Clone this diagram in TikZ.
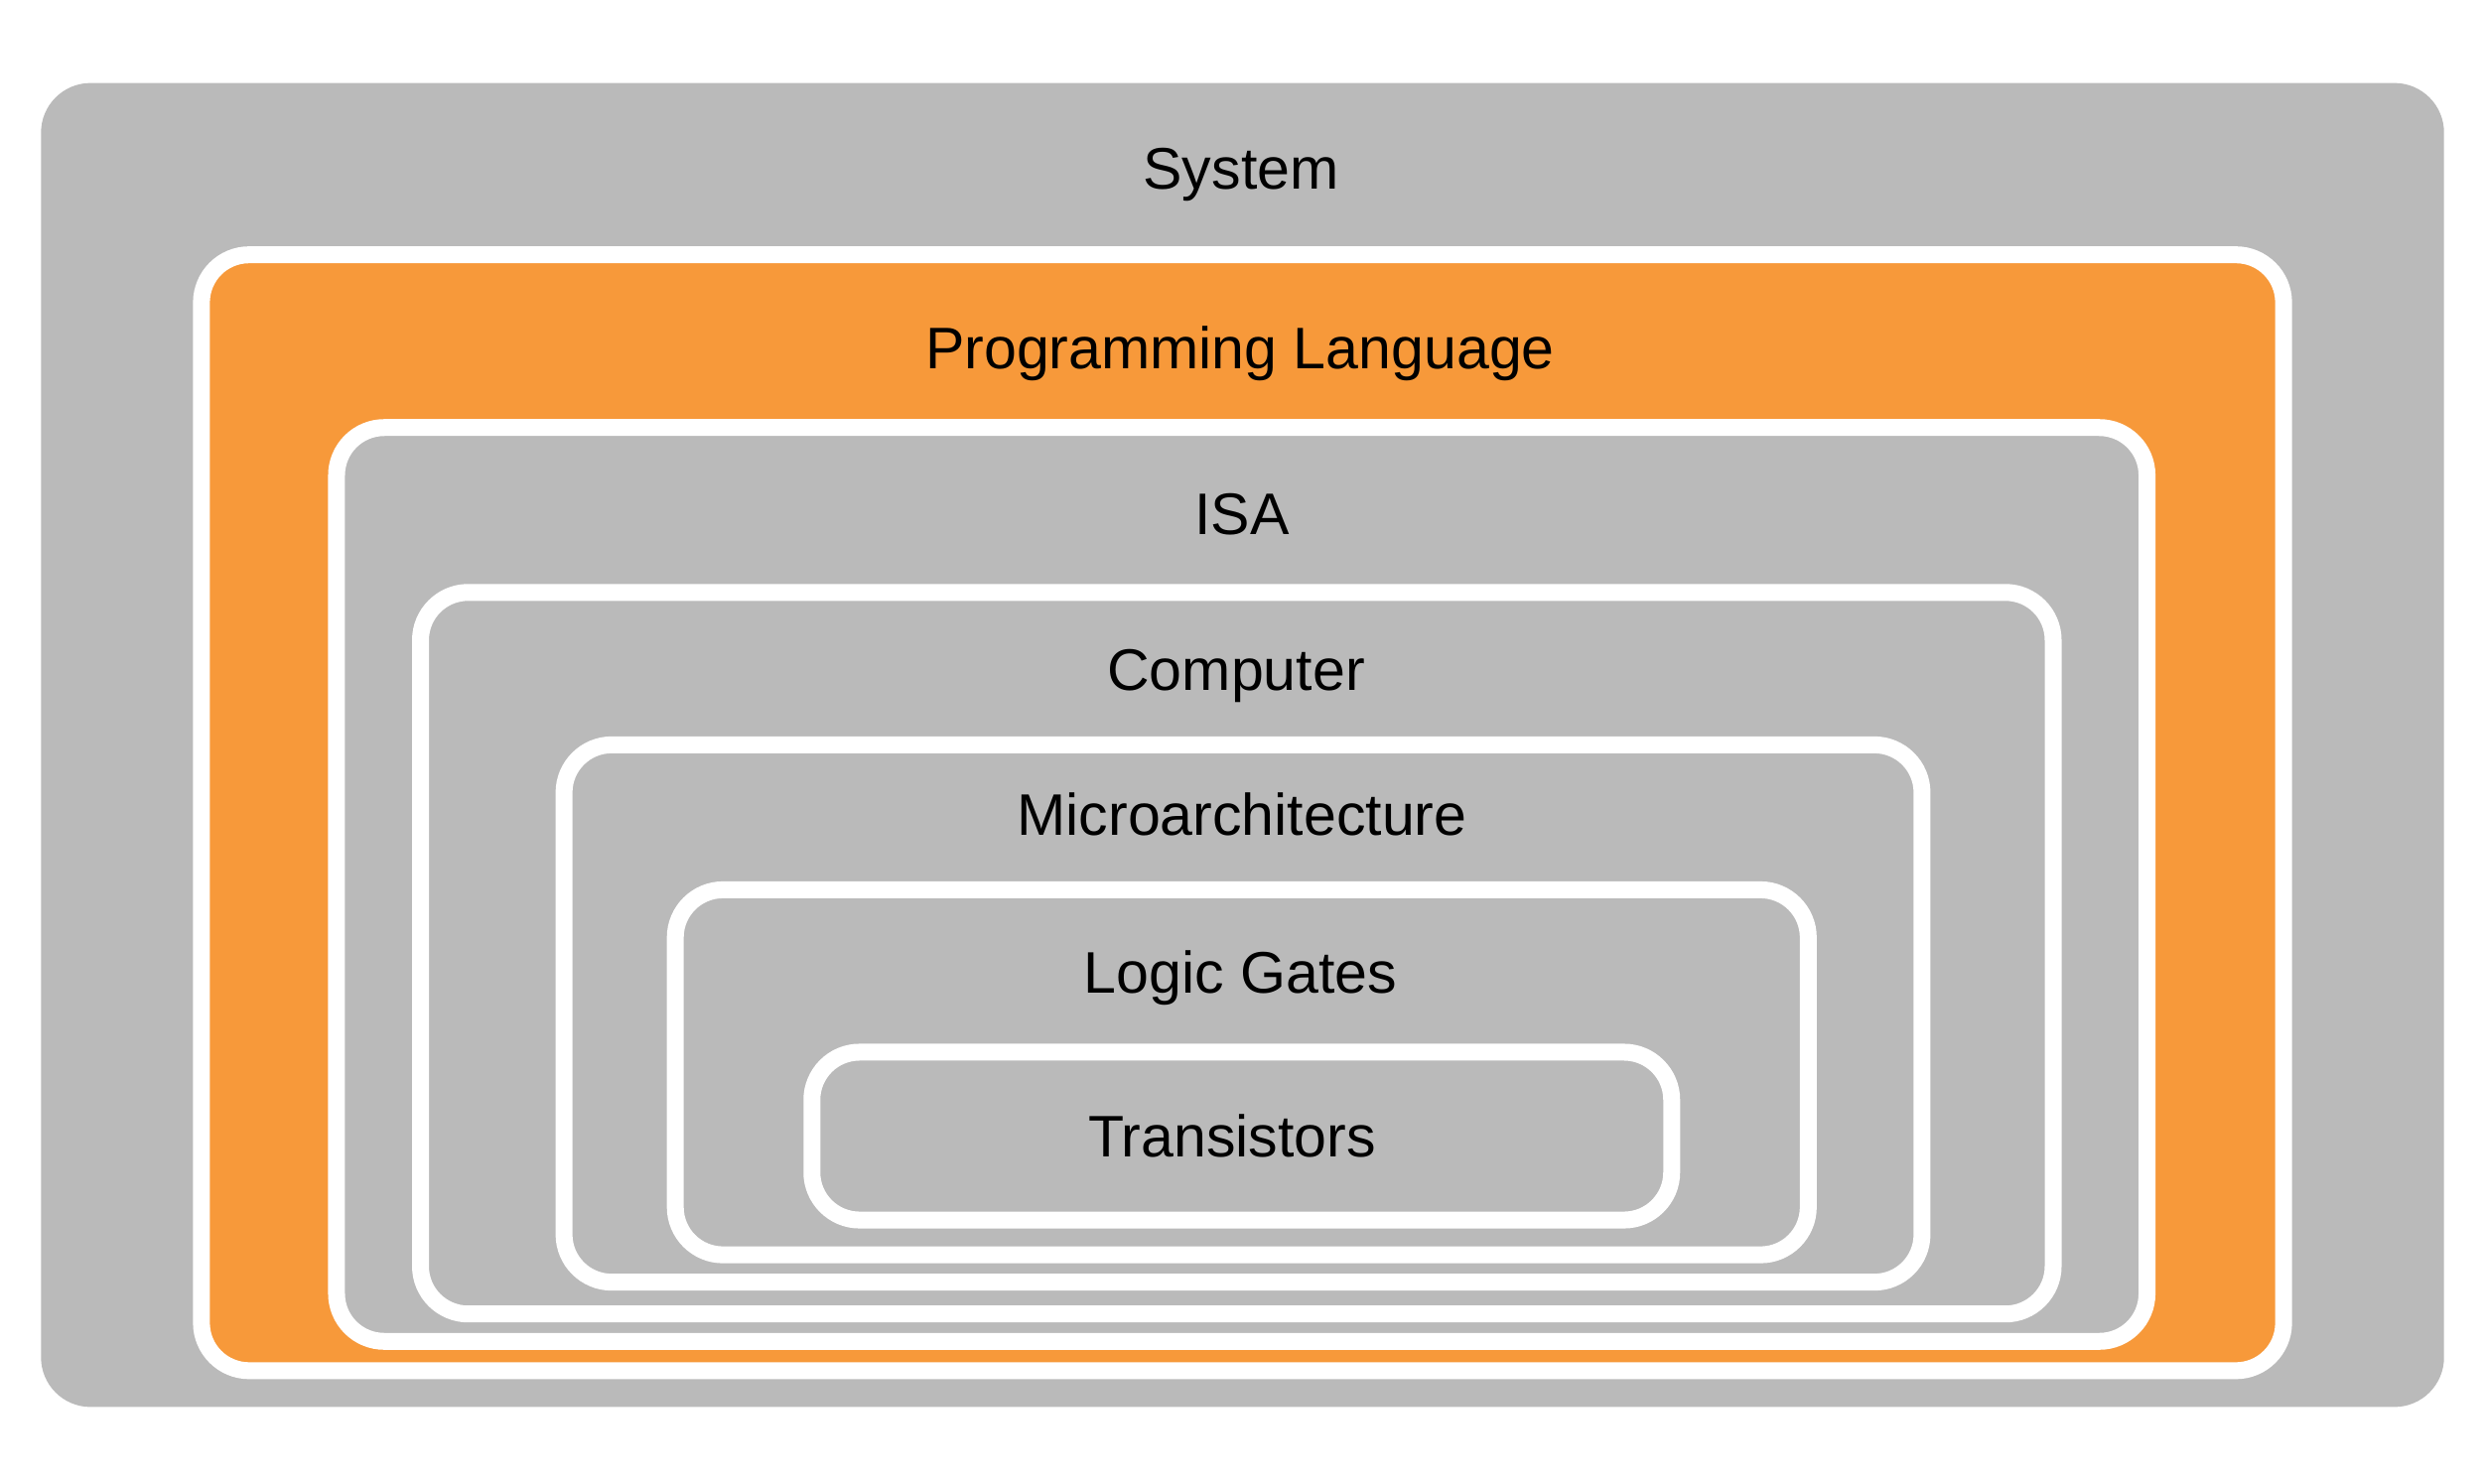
\documentclass[tikz,border=0pt]{standalone}
\usepackage{fontspec}
\setmainfont{Liberation Sans}
\definecolor{layergray}{HTML}{BABABA}
\definecolor{layerorange}{HTML}{F7993A}
\begin{document}
\begin{tikzpicture}[x=0.01cm, y=-0.01cm,
    layer/.style={fill=layergray, draw=white, line width=0.17cm, rounded corners=0.48cm, inner sep=0pt},
    layertext/.style={anchor=base, inner sep=0pt, font=\fontsize{16.8pt}{20pt}\selectfont}]
    \useasboundingbox (0,0) rectangle (2504,1494);
    % nested layers, outside in
    \node[fill=layergray, rounded corners=0.5cm, inner sep=0pt, minimum width=24.19cm, minimum height=13.33cm] (S) at (1251.5,750.5) {};
    \node[layer, fill=layerorange, minimum width=20.96cm, minimum height=11.235cm] (P) at (1251.5,818.75) {};
    \node[layer, minimum width=18.225cm, minimum height=9.2cm] (I) at (1250.75,891) {};
    \node[layer, minimum width=16.435cm, minimum height=7.265cm] (C) at (1245.75,960.25) {};
    \node[layer, minimum width=13.67cm, minimum height=5.41cm] (M) at (1252,1021) {};
    \node[layer, minimum width=11.405cm, minimum height=3.675cm] (L) at (1250.75,1080.25) {};
    \node[layer, minimum width=8.655cm, minimum height=1.69cm] (T) at (1250.75,1144.5) {};
    % labels
    \node[layertext] (s) at (1250,190.7) {System};
    \node[layertext] (p) at (1249,371.7) {Programming Language};
    \node[layertext] (i) at (1251,538.5) {ISA};
    \node[layertext] (c) at (1245,695) {Computer};
    \node[layertext] (m) at (1251,841.6) {Microarchitecture};
    \node[layertext] (l) at (1249.5,1000) {Logic Gates};
    \node[layertext] (t) at (1241,1165) {Transistors};
\end{tikzpicture}
\end{document}
